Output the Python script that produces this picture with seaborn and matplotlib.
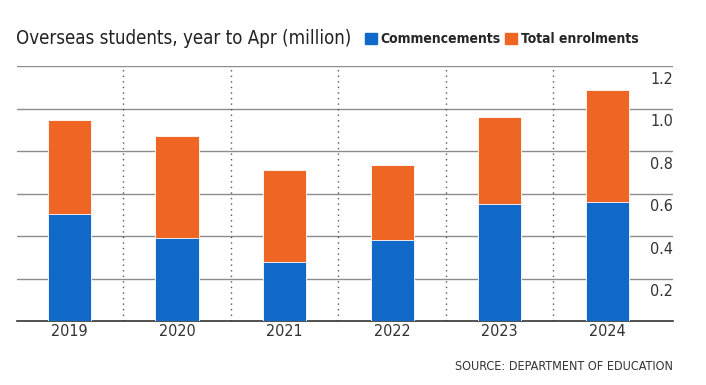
import matplotlib
matplotlib.use("Agg")

import matplotlib.pyplot as plt
import matplotlib.transforms as mtransforms
from matplotlib.patches import Patch
import pandas as pd
import seaborn as sns

# data (million students, year to April)
years = ["2019", "2020", "2021", "2022", "2023", "2024"]
commencements = [0.505, 0.392, 0.278, 0.383, 0.551, 0.561]
total_enrolments = [0.946, 0.872, 0.711, 0.736, 0.961, 1.086]
y_ticks = [0.2, 0.4, 0.6, 0.8, 1.0, 1.2]

BLUE = "#1069c9"
ORANGE = "#ef6624"

sns.set_theme(style="white")
# narrow face to get close to the original's condensed type
plt.rcParams["font.family"] = ["DejaVu Sans"]
plt.rcParams["font.stretch"] = "condensed"

df = pd.DataFrame(
    {"year": years, "commencements": commencements, "total": total_enrolments}
)

fig = plt.figure(figsize=(7.06, 3.85), dpi=100)
ax = fig.add_axes([0.0237, 0.166, 0.9293, 0.6626])

# gridlines + separators behind the bars
for v in y_ticks:
    ax.axhline(v, color="#8c8c8c", lw=1.0, zorder=0)
for i in range(len(years) - 1):
    ax.axvline(i + 0.5, color="#555555", lw=1.0, ls=(0, (1, 3)), zorder=0)

sns.barplot(data=df, x="year", y="total", color=ORANGE, width=0.4,
            saturation=1, edgecolor="white", linewidth=0.6, ax=ax, zorder=2)
sns.barplot(data=df, x="year", y="commencements", color=BLUE, width=0.4,
            saturation=1, edgecolor="white", linewidth=0.6, ax=ax, zorder=3)

ax.set_xlim(-0.49, 5.61)
ax.set_ylim(0, 1.2)
ax.set_xlabel("")
ax.set_ylabel("")
ax.set_yticks([])
for s in ["top", "left", "right"]:
    ax.spines[s].set_visible(False)
ax.spines["bottom"].set_color("#333333")
ax.spines["bottom"].set_linewidth(1.2)
ax.tick_params(axis="x", length=0, pad=2, labelsize=11.5, labelcolor="#333333")

# y labels hang just below their gridline, inside the right edge
trans = mtransforms.blended_transform_factory(ax.transAxes, ax.transData)
for v in y_ticks:
    ax.annotate(f"{v:.1f}", xy=(1.0, v), xycoords=trans, xytext=(0, -4),
                textcoords="offset points", ha="right", va="top",
                fontsize=11.5, color="#333333")

fig.text(0.0227, 1 - 38 / 385, "Overseas students, year to Apr (million)",
         fontsize=13.4, color="#222222", va="center", ha="left")

handles = [Patch(color=BLUE, label="Commencements"),
           Patch(color=ORANGE, label="Total enrolments")]
fig.legend(handles=handles, loc="center left",
           bbox_to_anchor=(365 / 706, 1 - 39 / 385), ncol=2, frameon=False,
           handlelength=0.85, handleheight=0.85, handletextpad=0.25,
           columnspacing=0.35, borderpad=0, borderaxespad=0,
           prop={"weight": "bold", "size": 10})

fig.text(0.953, 1 - 367 / 385, "SOURCE: DEPARTMENT OF EDUCATION",
         fontsize=9, color="#333333", ha="right", va="center")

fig.savefig("out.png", dpi=100, facecolor="white")
